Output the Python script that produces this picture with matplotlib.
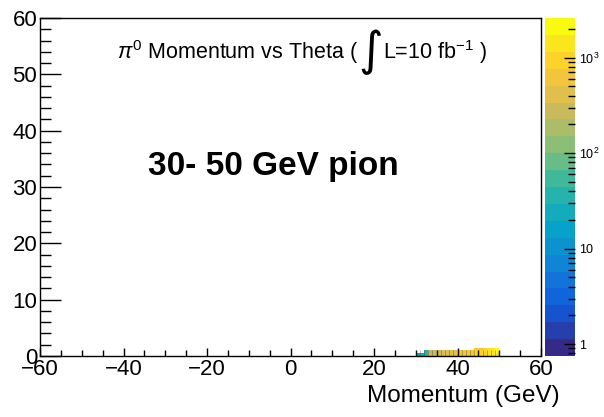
import numpy as np
import matplotlib
matplotlib.use("Agg")
import matplotlib.pyplot as plt
from matplotlib.colors import LinearSegmentedColormap, ListedColormap, LogNorm
from matplotlib.ticker import MultipleLocator, FixedLocator, FixedFormatter, LogLocator, NullFormatter
from matplotlib.offsetbox import TextArea, HPacker, AnchoredOffsetbox

plt.rcParams['font.family'] = ['Liberation Sans', 'DejaVu Sans']
plt.rcParams['mathtext.fontset'] = 'custom'
plt.rcParams['mathtext.rm'] = 'Liberation Sans'
plt.rcParams['mathtext.it'] = 'Liberation Sans:italic'

# 2D histogram: momentum (GeV) bins vs theta bins
momentum_edges = np.arange(30, 51, 1)
theta_edges = [0.0, 0.5, 1.0, 1.5]
counts_row0 = [15, 25, 40, 250, 300, 350, 400, 420, 450, 500,
               550, 600, 650, 700, 800, 900, 1000, 1200, 1400, 1600]
counts_row1 = [0, 0, 30, 200, 280, 320, 380, 400, 430, 480,
               520, 580, 640, 700, 800, 900, 1100, 1300, 1500, 1800]
counts_row2 = [0, 0, 0, 0, 0, 0, 0, 0, 0, 0,
               0, 0, 0, 0, 600, 700, 900, 1200, 1500, 2000]

z_min, z_max = 0.75, 2600
n_levels = 20

# ROOT kBird palette
stops = [0.0, 0.125, 0.25, 0.375, 0.5, 0.625, 0.75, 0.875, 1.0]
red = [0.2082, 0.0592, 0.0780, 0.0232, 0.1802, 0.5301, 0.8186, 0.9956, 0.9764]
green = [0.1664, 0.3599, 0.5041, 0.6419, 0.7178, 0.7492, 0.7328, 0.7862, 0.9832]
blue = [0.5293, 0.8684, 0.8385, 0.7914, 0.6425, 0.4662, 0.3499, 0.1968, 0.0539]
bird = LinearSegmentedColormap.from_list(
    "bird", [(s, (r, g, b)) for s, r, g, b in zip(stops, red, green, blue)])
cmap = ListedColormap(bird(np.linspace(0, 1, n_levels)))

fig = plt.figure(figsize=(6.04, 4.17), dpi=100)
ax = fig.add_axes([40 / 604, 61 / 417, 501 / 604, 338 / 417])
cax = fig.add_axes([545 / 604, 61 / 417, 30 / 604, 338 / 417])

counts = np.ma.masked_equal(np.array([counts_row0, counts_row1, counts_row2], dtype=float), 0)
mesh = ax.pcolormesh(momentum_edges, theta_edges, counts, cmap=cmap,
                     norm=LogNorm(vmin=z_min, vmax=z_max))
# thin dark bin separators, as in the ROOT rendering
ax.vlines(momentum_edges, 0, 1.0, colors='#333333', linewidth=0.4, alpha=0.6)

ax.set_xlim(-60, 60)
ax.set_ylim(0, 60)
ax.xaxis.set_major_locator(MultipleLocator(20))
ax.xaxis.set_minor_locator(MultipleLocator(5))
ax.yaxis.set_major_locator(MultipleLocator(10))
ax.yaxis.set_minor_locator(MultipleLocator(2))
ax.tick_params(axis='both', which='both', direction='in', top=False, right=False,
               labelsize=16, width=1)
ax.tick_params(axis='x', which='major', length=6, pad=2)
ax.tick_params(axis='x', which='minor', length=4)
ax.tick_params(axis='y', which='major', length=15, pad=2)
ax.tick_params(axis='y', which='minor', length=8)
for sp in ax.spines.values():
    sp.set_linewidth(1)

ax.set_xlabel("Momentum (GeV)", fontsize=17.5, labelpad=3)
ax.xaxis.set_label_coords((560 - 40) / 501, -0.085)
ax.xaxis.label.set_horizontalalignment('right')

# title with tall integral sign
parts = [
    TextArea(r"$\pi^{0}$ Momentum vs Theta (", textprops=dict(fontsize=15.5)),
    TextArea("\u222b", textprops=dict(fontsize=34, family='DejaVu Sans')),
    TextArea(r"L=10 fb$^{-1}$ )", textprops=dict(fontsize=15.5)),
]
title_box = HPacker(children=parts, align="center", pad=0, sep=0)
anch = AnchoredOffsetbox(loc='center', child=title_box, frameon=False,
                         bbox_to_anchor=(302 / 604, 1 - 52 / 417),
                         bbox_transform=fig.transFigure, borderpad=0)
fig.add_artist(anch)

ax.text(0.465, 0.562, "30- 50 GeV pion", transform=ax.transAxes,
        fontsize=24, fontweight='bold', ha='center', va='center')

cbar = fig.colorbar(mesh, cax=cax)
cbar.outline.set_visible(False)
cax.yaxis.set_major_locator(FixedLocator([1, 10, 100, 1000]))
cax.yaxis.set_major_formatter(FixedFormatter(['1', '10', r'$10^{2}$', r'$10^{3}$']))
cax.yaxis.set_minor_locator(LogLocator(base=10, subs=np.arange(2, 10)))
cax.yaxis.set_minor_formatter(NullFormatter())
cax.tick_params(axis='y', which='both', direction='in', labelsize=9, width=1,
                left=False, right=True, labelleft=False, labelright=True)
cax.tick_params(axis='y', which='major', length=8, pad=3)
cax.tick_params(axis='y', which='minor', length=5)

fig.savefig("out.png", dpi=100)
